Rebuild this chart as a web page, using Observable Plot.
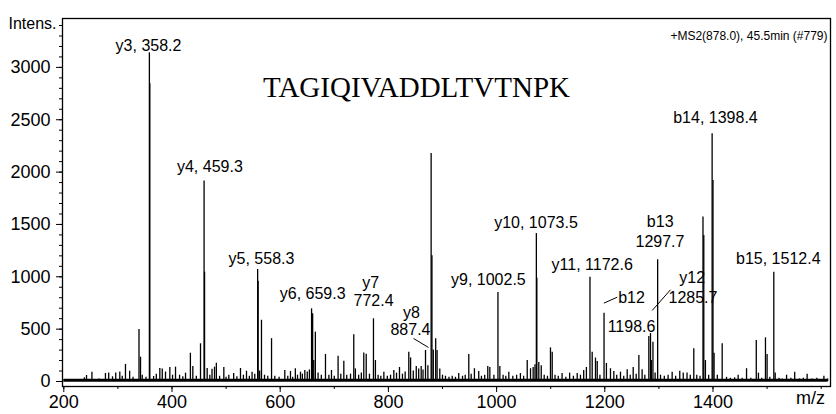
<!DOCTYPE html>
<html><head><meta charset="utf-8">
<script src="https://cdn.jsdelivr.net/npm/d3@7"></script>
<script src="https://cdn.jsdelivr.net/npm/@observablehq/plot@0.6"></script>
<style>body{margin:0;background:#fff}</style>
</head><body><div id="chart"></div>
<script>
// Spectrum sticks: [m/z, intensity]
const peaks = [
[210,15],[222,20],[238,35],[242,57],[252,89],[265,25],[277,76],[283,80],[290,45],[296,80],[303.5,90],[308,50],[314,163],[321.7,98],[328,40],[339,497],[341.8,232],[345,60],[352,40],[359,2843],[358.2,3139],[366,48],[371,70],[377.5,124],[382,119],[388,90],[396,134],[401,60],[406.5,137],[414,60],[420,45],[425,80],[434,270],[438.5,143],[445,50],[452.7,360],[460.2,1044],[459.3,1915],[465,124],[470,60],[474,118],[478.6,137],[482,175],[488,50],[495.8,134],[500,40],[505,60],[514,76],[520,45],[526.6,124],[532,60],[537.7,98],[543,50],[548,89],[553,70],[559.2,958],[558.3,1070],[562,100],[565.4,585],[571,60],[577,50],[584,409],[590,50],[598,40],[608.5,105],[614,50],[619,96],[623,40],[628,122],[632,60],[637.5,89],[641,70],[645.5,105],[650,90],[654,110],[658,694],[660,646],[662,200],[665,471],[670,80],[676,60],[683.7,258],[690,60],[694.8,105],[700,50],[707,242],[712,70],[717.6,194],[723,60],[730,70],[736,446],[739,120],[745,60],[750,80],[754.5,271],[759,261],[765,70],[772.4,599],[776,200],[781,60],[786,50],[791.6,89],[798,50],[804,60],[810,105],[815,80],[820.5,134],[826,70],[831,90],[837.7,280],[841,225],[846,100],[851.5,143],[856,120],[860.6,143],[864,110],[868.6,296],[873,150],[879,2178],[880.5,1200],[883,300],[887.4,408],[890,296],[895,120],[900,60],[905.5,50],[912,40],[918,50],[924,40],[930,76],[937,50],[942,60],[948.6,258],[953,70],[959,122],[967,96],[972,50],[978,60],[983.7,143],[987.5,134],[995,60],[1002.5,850],[1006,143],[1012,60],[1017,50],[1022.6,89],[1030,50],[1037,60],[1044,76],[1050,50],[1056.6,200],[1062.7,122],[1067.6,134],[1071,160],[1074.4,985],[1073.5,1413],[1078,181],[1082.5,150],[1088,60],[1094,50],[1099.6,321],[1102.8,280],[1108,60],[1114,50],[1121,76],[1128,40],[1135,80],[1142,50],[1149,76],[1155,60],[1161,105],[1166,134],[1172.6,995],[1176.7,280],[1182.8,224],[1186,190],[1191,60],[1198.6,652],[1203,172],[1210.5,122],[1216.7,96],[1222,60],[1229,89],[1235,50],[1241.4,112],[1247,60],[1252.5,134],[1258,70],[1263,248],[1269,112],[1274,60],[1281.4,430],[1284.5,458],[1286,200],[1289,376],[1293,80],[1297.7,1162],[1303,60],[1310,50],[1317,60],[1324.5,89],[1331,50],[1338.6,98],[1345,80],[1352,80],[1358,60],[1364.5,312],[1370,60],[1376,50],[1381.5,1570],[1383,1395],[1386,200],[1392,60],[1398.4,2366],[1400,1920],[1402,270],[1408,60],[1417,360],[1425,40],[1432,30],[1440,35],[1446.5,60],[1454,30],[1462,122],[1470,30],[1480,392],[1484,80],[1490,30],[1497,417],[1500,257],[1505,40],[1512.4,1044],[1515,80],[1522,30],[1528,25],[1536,60],[1544,30],[1551,89],[1560,25],[1567,30],[1574,70],[1583,25],[1592,30],[1598,20],[1605,50],[1612,25]
];

// Fragment annotations
const labelText = ["y3, 358.2","y4, 459.3","y5, 558.3","y6, 659.3","y7","772.4","y8","887.4","y9, 1002.5","y10, 1073.5","y11, 1172.6","b12","1198.6","b13","1297.7","y12","1285.7","b14, 1398.4","b15, 1512.4"];
const labelMz = [356.6,470,565.4,660,767.5,772.5,842.6,840.8,984.8,1072.8,1176.7,1249.4,1249.4,1302.4,1302,1361.6,1363,1404.6,1520.7];
const labelIntensity = [3209,2054,1175,840,946,774,659,497,974,1519,1117,802,525,1521,1330,990,800,2521,1172];

// Leader lines [mz1, int1, mz2, int2]
const leaders = [[846.4,411,874.1,325],[1198.2,748,1222.9,805],[1287.6,678,1321.4,876]];

// Noise floor band
const baseline = [{from: 200, to: 1613, level: 12}];

const yMajor = [0,500,1000,1500,2000,2500,3000];
const yMinor = d3.range(0, 3500, 100);
const xMajor = [200,400,600,800,1000,1200,1400];
const xMinor = d3.range(200, 1700, 100);

const title = "TAGIQIVADDLTVTNPK";
const scanInfo = "+MS2(878.0), 45.5min (#779)";
const yTitle = "Intens.";
const xTitle = "m/z";

const peakData = peaks.map(([mz, intensity]) => ({mz, intensity}));
const labelData = labelText.map((t, i) => ({text: t, mz: labelMz[i], intensity: labelIntensity[i]}));
const leaderData = leaders.map(([a,b,c,d]) => ({x1:a, y1:b, x2:c, y2:d}));

const chart = Plot.plot({
  width: 836, height: 414,
  marginLeft: 62, marginRight: 6, marginTop: 18, marginBottom: 28,
  style: {fontFamily: "'Liberation Sans', Arial, sans-serif", fontSize: "18px", color: "#000", background: "#fff"},
  x: {domain: [197.6, 1617.2]},
  y: {domain: [-47.8, 3467]},
  marks: [
    Plot.ruleY(baseline, {y: "level", x1: "from", x2: "to", strokeWidth: 3, stroke: "#000"}),
    Plot.ruleX(peakData, {x: "mz", y1: 0, y2: "intensity", strokeWidth: 1.3, stroke: "#000"}),
    Plot.link(leaderData, {x1: "x1", y1: "y1", x2: "x2", y2: "y2", stroke: "#000", strokeWidth: 1}),
    Plot.text(labelData, {x: "mz", y: "intensity", text: "text", fontSize: 16, fill: "#000"}),
    Plot.axisY(yMinor, {tickSize: 3, tickFormat: () => "", label: null}),
    Plot.axisY(yMajor, {tickSize: 6, tickPadding: 6, label: null, fontSize: 18, tickFormat: d3.format("d")}),
    Plot.axisX(xMinor, {tickSize: 3, tickFormat: () => "", label: null}),
    Plot.axisX(xMajor, {tickSize: 6, tickPadding: 3, label: null, fontSize: 18, tickFormat: d3.format("d")}),
    Plot.frame({stroke: "#000", strokeWidth: 1.3}),
    Plot.text([yTitle], {frameAnchor: "top-left", textAnchor: "start", dx: -54, dy: -1, fontSize: 16}),
    Plot.text([xTitle], {frameAnchor: "bottom-right", textAnchor: "middle", dx: -20, dy: 17, fontSize: 18}),
    Plot.text([scanInfo], {frameAnchor: "top-right", textAnchor: "end", dx: -3, dy: 13, fontSize: 12}),
    Plot.text([title], {frameAnchor: "top", dx: -30, dy: 58, fontSize: 29, fontFamily: "'Liberation Serif', 'Times New Roman', serif"})
  ]
});
document.getElementById("chart").appendChild(chart);
</script>
</body></html>
